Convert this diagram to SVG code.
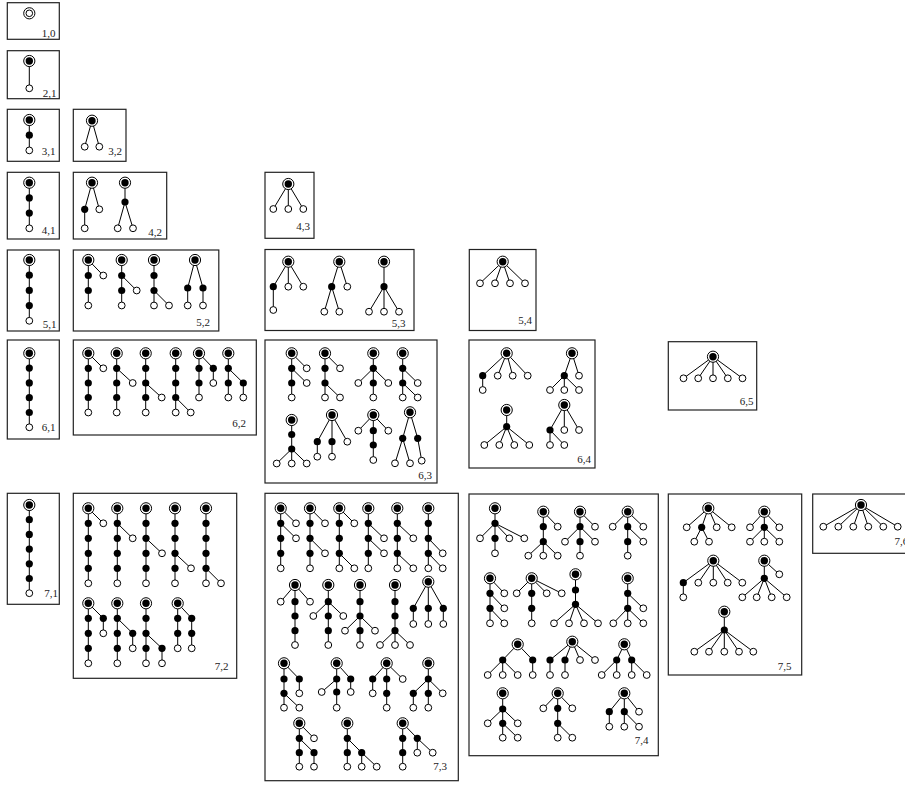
<svg xmlns="http://www.w3.org/2000/svg" xmlns:xlink="http://www.w3.org/1999/xlink" width="905" height="785" viewBox="0 0 905 785">
<style>
rect.box{fill:none;stroke:#222;stroke-width:1.2}
text{font-family:"Liberation Serif","Times New Roman",serif;font-size:11px;text-anchor:end;fill:#222}
#connectors path{stroke:#000;stroke-width:1;fill:none}
</style>
<defs>
<g id="R"><circle r="5.6" fill="#fff" stroke="#000" stroke-width="1"/><circle r="3.7" fill="#000"/></g>
<g id="R0"><circle r="5.6" fill="#fff" stroke="#000" stroke-width="1"/><circle r="3.3" fill="#fff" stroke="#000" stroke-width="1"/></g>
<circle id="L" r="3.4" fill="#fff" stroke="#000" stroke-width="1"/>
<circle id="B" r="3.6" fill="#000"/>
</defs>
<rect width="905" height="785" fill="#fff"/>
<g id="connectors">
<path d="M29.3 61V88.3M29.3 120V150.4M92 120.7L84.7 146.7M92 120.7L99.3 146.7"/>
<path d="M29.3 182.7V228.3M92 182.7L84.7 209.3V228.3M92 182.7L99.3 209.3M125 182.7V202L117.7 228.3M125 202L133 228.3M288.3 184L273.3 209M288.3 184V209M288.3 184L303.3 209"/>
<path d="M29.3 260V320.8M88.3 260V305.5M88.3 260L103.3 275.5M121.7 260V305.5M121.7 275.5L136.7 290.5M154 260V305.5M154 290.5L169 305.5M195 260L187.7 288V305.5M195 260L203 288V305.5"/>
<path d="M288.3 261.7L273.3 286.7V310M288.3 261.7V286.7M288.3 261.7L303.3 286.7M339.3 261.7L331.7 286.7L324.3 311.7M331.7 286.7L339.3 311.7M339.3 261.7L347.3 286.7M384 261.7V311.7M384 286.7L369 311.7M384 286.7L399 311.7"/>
<path d="M502.7 261.7L480 283.3M502.7 261.7L495 283.3M502.7 261.7L510 283.3M502.7 261.7L525 283.3"/>
<path d="M29.3 353.3V427.3M88.3 353.3V412.5M88.3 353.3L103.3 368.3M116.7 353.3V412.5M116.7 368.3L132.7 383M145.7 353.3V412.5M145.7 383L161.7 397.5M175.7 353.3V412.5M175.7 397.5L190.7 412.5M199 353.3V397.5M199 353.3L213.3 368.3V383M228.3 353.3V397.5M228.3 368.3L243.3 383V397.5"/>
<path d="M291.7 353.3V397.5M291.7 353.3L306.7 368.3M291.7 368.3L306.7 383M325 353.3V397.5M325 383L340 397.5M325 353.3L340 368.3M373.3 353.3V397.5M373.3 368.3L358.3 383M373.3 368.3L388.3 383M402.7 353.3V397.5M402.7 368.3L417.7 383M402.7 383L417.7 397.5M291.7 420V449L276.7 463.5M291.7 449V463.5M291.7 449L306.7 463.5M332 415L317.3 441.7V456.7M332 415V456.7M332 415L347.3 441.7M373.3 415V460M373.3 415L358.3 430.7M373.3 415L388.3 430.7M410 412.3L402.7 438.3L395 463.3M402.7 438.3L410 463.3M410 412.3L417.7 438.3L421.7 460.7"/>
<path d="M506.7 353.3L482.7 375.7V390M506.7 353.3L497.7 375.7M506.7 353.3L512.7 375.7M506.7 353.3L527.7 375.7M572 353.3L564.3 375.7L550 390M564.3 375.7V390M564.3 375.7L579 390M572 353.3L579 375.7M506.7 410V426.7L484.3 445M506.7 426.7L499.3 445M506.7 426.7L514.3 445M506.7 426.7L529.3 445M564.3 405L550 430V445M550 430L564.3 445M564.3 405V430M564.3 405L579 430"/>
<path d="M713 356.7L683.5 378.3M713 356.7L698.2 378.3M713 356.7V378.3M713 356.7L727.8 378.3M713 356.7L742.5 378.3"/>
<path d="M29.3 505V593.2M88.3 508.3V583.3M88.3 508.3L103.3 523.3M117.3 508.3V583.3M117.3 523.3L132.7 538.3M146 508.3V583.3M146 538.3L162 553.3M175 508.3V583.3M175 553.3L191 568.3M206 508.3V583.3M206 568.3L221 583.3M88.3 603.3V663.3M88.3 603.3L103.3 618.3V633.3M117.3 603.3V663.3M117.3 618.3L132.7 633.3V648.3M146 603.3V663.3M146 633.3L162 648.3V663.3M177.7 603.3V648.3M177.7 603.3L191.7 618.3V648.3"/>
<path d="M280.7 508.3V568.3M280.7 508.3L296 523.3M280.7 523.3L296 538.3M310 508.3V568.3M310 508.3L325 523.3M310 538.3L325 553.3M339.3 508.3V568.3M339.3 508.3L354.3 523.3M339.3 553.3L354.3 568.3M368.3 508.3V568.3M368.3 523.3L384 538.3M368.3 538.3L384 553.3M397.3 508.3V568.3M397.3 523.3L413.3 538.3M397.3 553.3L413.3 568.3M428.3 508.3V568.3M428.3 538.3L442.7 553.3M428.3 553.3L442.7 568.3"/>
<path d="M295 585V645M295 585L280.7 601.7M295 585L310 601.7M328.3 585V645M328.3 601.7L313.3 616M328.3 601.7L343.3 616M360 585V645M360 616L345 630.7M360 616L375 630.7M395 585V645M395 630.7L380 645M395 630.7L410 645M428.3 581.7L413.3 608.3V624M428.3 581.7V624M428.3 581.7L443.3 608.3V624"/>
<path d="M284 663.3V707.7M284 663.3L299.3 679V693.3M284 693.3L299.3 707.7M336.7 663.3V707.7M336.7 679L321.7 692M336.7 663.3L350.7 679V692M386.7 663.3V707.7M386.7 663.3L372.7 679V693.3M386.7 663.3L402.7 679M428.3 663.3V707.7M428.3 679L413.3 693.3V707.7M428.3 679L442.7 693.3"/>
<path d="M299.3 723.3V766.7M299.3 723.3L314 738.3M299.3 738.3L314 752.7V766.7M347.3 723.3V766.7M347.3 738.3L361.7 752.7V766.7M361.7 752.7L376.7 766.7M402.7 723.3V766.7M402.7 723.3L417.3 738.3V752.7M417.3 738.3L432.7 752.7"/>
<path d="M495 508.3V553.3M495 523.3L480 538.3M495 523.3L509.3 538.3M495 523.3L524.3 538.3M543.3 511.7V541.7L528.3 555.7M543.3 541.7V555.7M543.3 541.7L557.7 555.7M543.3 511.7L557.7 526.7M580 511.7V555.7M580 511.7L595 526.7M580 526.7L565 541.7M580 526.7L595 541.7M627.7 511.7V555.7M627.7 511.7L612.7 526.7M627.7 511.7L643.3 526.7M627.7 526.7L643.3 541.7"/>
<path d="M490 578.3V623.3M490 578.3L504.3 593.3M490 593.3L504.3 608.3M490 608.3L504.3 623.3M531.7 578.3V623.3M531.7 578.3L516.7 593.3M531.7 578.3L546.7 593.3M531.7 578.3L561.7 593.3M575.5 574.3V604.3L554 623.3M575.5 604.3L569 623.3M575.5 604.3L584 623.3M575.5 604.3L598 623.3M627.7 578.3V623.3M627.7 593.3L643.3 608.3M627.7 608.3L613.3 623.3M627.7 608.3L643.3 623.3"/>
<path d="M517.7 644.3L502.7 660L487.7 675M502.7 660V675M502.7 660L517.7 675M517.7 644.3L532.7 660V675M572.3 641.7L550 660V675M572.3 641.7L565 660V675M572.3 641.7L580 660M572.3 641.7L595 660M624.3 644.3L616.7 660L601.7 675M616.7 660V675M624.3 644.3L631.7 660V675M631.7 660L646.7 675"/>
<path d="M502.7 693.3V737.7M502.7 709L487.7 723.3M502.7 709L517.7 723.3M502.7 723.3L517.7 737.7M557.7 693.3V737.7M557.7 693.3L543.3 708.3M557.7 693.3L572.3 708.3M557.7 723.3L572.3 737.7M624.3 693.3L609.3 711.7V726.7M624.3 693.3V726.7M624.3 693.3L639 711.7M624.3 711.7L639 726.7"/>
<path d="M708.3 508.3L686.7 527.3M708.3 508.3L701.7 527.3L694.3 541.7M701.7 527.3L709 541.7M708.3 508.3L716.7 527.3M708.3 508.3L731.7 527.3M764.3 511.7V541.7M764.3 511.7L750 527.3M764.3 511.7L779.3 527.3M764.3 527.3L750 541.7M764.3 527.3L779.3 541.7"/>
<path d="M713.3 560.7L683.3 582.7V597.3M713.3 560.7L698.3 582.7M713.3 560.7V582.7M713.3 560.7L727.7 582.7M713.3 560.7L742.3 582.7M764.3 560.7V578.3L742.3 597.3M764.3 578.3L756.7 597.3M764.3 578.3L771.7 597.3M764.3 578.3L786.7 597.3M764.3 560.7L779.3 574.3M724.3 611.7V651.7M724.3 630L694.3 651.7M724.3 630L709 651.7M724.3 630L739 651.7M724.3 630L753.3 651.7"/>
<path d="M861 505L823.3 526.7M861 505L838.3 526.7M861 505L853.3 526.7M861 505L868.3 526.7M861 505L883.3 526.7M861 505L897.7 526.7"/>
</g>
<g id="box-1-0"><rect class="box" x="7.3" y="2.7" width="52" height="36.6"/><text x="55.5" y="36.5">1,0</text><use href="#R0" x="29.3" y="13.3"/></g>
<g id="box-2-1"><rect class="box" x="7.3" y="50.7" width="52" height="48"/><text x="56.5" y="96.5">2,1</text><use href="#R" x="29.3" y="61"/><use href="#L" x="29.3" y="88.3"/></g>
<g id="box-3-1"><rect class="box" x="7.3" y="109.3" width="52" height="52"/><text x="55.5" y="154.5">3,1</text><use href="#R" x="29.3" y="120"/><use href="#B" x="29.3" y="135.2"/><use href="#L" x="29.3" y="150.4"/></g>
<g id="box-3-2"><rect class="box" x="73.3" y="109.3" width="52.7" height="52"/><text x="122" y="154.5">3,2</text><use href="#R" x="92" y="120.7"/><use href="#L" x="84.7" y="146.7"/><use href="#L" x="99.3" y="146.7"/></g>
<g id="box-4-1"><rect class="box" x="7.3" y="172.3" width="52" height="66.7"/><text x="55.5" y="233.5">4,1</text><use href="#R" x="29.3" y="182.7"/><use href="#B" x="29.3" y="197.9"/><use href="#B" x="29.3" y="213.1"/><use href="#L" x="29.3" y="228.3"/></g>
<g id="box-4-2"><rect class="box" x="73.3" y="172.3" width="93.4" height="66.7"/><text x="162" y="236">4,2</text><use href="#R" x="92" y="182.7"/><use href="#B" x="84.7" y="209.3"/><use href="#L" x="84.7" y="228.3"/><use href="#L" x="99.3" y="209.3"/><use href="#R" x="125" y="182.7"/><use href="#B" x="125" y="202"/><use href="#L" x="117.7" y="228.3"/><use href="#L" x="133" y="228.3"/></g>
<g id="box-4-3"><rect class="box" x="265" y="172.3" width="49" height="66"/><text x="310" y="230">4,3</text><use href="#R" x="288.3" y="184"/><use href="#L" x="273.3" y="209"/><use href="#L" x="288.3" y="209"/><use href="#L" x="303.3" y="209"/></g>
<g id="box-5-1"><rect class="box" x="7.3" y="250" width="52" height="81"/><text x="56.5" y="327.5">5,1</text><use href="#R" x="29.3" y="260"/><use href="#B" x="29.3" y="275.2"/><use href="#B" x="29.3" y="290.4"/><use href="#B" x="29.3" y="305.6"/><use href="#L" x="29.3" y="320.8"/></g>
<g id="box-5-2"><rect class="box" x="73.3" y="250" width="145.5" height="81"/><text x="210" y="326">5,2</text>
<use href="#R" x="88.3" y="260"/><use href="#B" x="88.3" y="275.5"/><use href="#B" x="88.3" y="290.5"/><use href="#L" x="88.3" y="305.5"/><use href="#L" x="103.3" y="275.5"/>
<use href="#R" x="121.7" y="260"/><use href="#B" x="121.7" y="275.5"/><use href="#B" x="121.7" y="290.5"/><use href="#L" x="121.7" y="305.5"/><use href="#L" x="136.7" y="290.5"/>
<use href="#R" x="154" y="260"/><use href="#B" x="154" y="275.5"/><use href="#B" x="154" y="290.5"/><use href="#L" x="154" y="305.5"/><use href="#L" x="169" y="305.5"/>
<use href="#R" x="195" y="260"/><use href="#B" x="187.7" y="288"/><use href="#B" x="203" y="288"/><use href="#L" x="187.7" y="305.5"/><use href="#L" x="203" y="305.5"/></g>
<g id="box-5-3"><rect class="box" x="265" y="249.5" width="149" height="81"/><text x="405.5" y="326.5">5,3</text>
<use href="#R" x="288.3" y="261.7"/><use href="#B" x="273.3" y="286.7"/><use href="#L" x="288.3" y="286.7"/><use href="#L" x="303.3" y="286.7"/><use href="#L" x="273.3" y="310"/>
<use href="#R" x="339.3" y="261.7"/><use href="#B" x="331.7" y="286.7"/><use href="#L" x="347.3" y="286.7"/><use href="#L" x="324.3" y="311.7"/><use href="#L" x="339.3" y="311.7"/>
<use href="#R" x="384" y="261.7"/><use href="#B" x="384" y="286.7"/><use href="#L" x="369" y="311.7"/><use href="#L" x="384" y="311.7"/><use href="#L" x="399" y="311.7"/></g>
<g id="box-5-4"><rect class="box" x="469.3" y="249.5" width="66.7" height="81"/><text x="532" y="323.5">5,4</text><use href="#R" x="502.7" y="261.7"/><use href="#L" x="480" y="283.3"/><use href="#L" x="495" y="283.3"/><use href="#L" x="510" y="283.3"/><use href="#L" x="525" y="283.3"/></g>
<g id="box-6-1"><rect class="box" x="7.3" y="340" width="52" height="99"/><text x="55.5" y="431">6,1</text><use href="#R" x="29.3" y="353.3"/><use href="#B" x="29.3" y="368.1"/><use href="#B" x="29.3" y="382.9"/><use href="#B" x="29.3" y="397.7"/><use href="#B" x="29.3" y="412.5"/><use href="#L" x="29.3" y="427.3"/></g>
<g id="box-6-2"><rect class="box" x="73.3" y="340" width="183" height="95"/><text x="246" y="427">6,2</text>
<use href="#R" x="88.3" y="353.3"/><use href="#B" x="88.3" y="368.3"/><use href="#B" x="88.3" y="383"/><use href="#B" x="88.3" y="397.5"/><use href="#L" x="88.3" y="412.5"/><use href="#L" x="103.3" y="368.3"/>
<use href="#R" x="116.7" y="353.3"/><use href="#B" x="116.7" y="368.3"/><use href="#B" x="116.7" y="383"/><use href="#B" x="116.7" y="397.5"/><use href="#L" x="116.7" y="412.5"/><use href="#L" x="132.7" y="383"/>
<use href="#R" x="145.7" y="353.3"/><use href="#B" x="145.7" y="368.3"/><use href="#B" x="145.7" y="383"/><use href="#B" x="145.7" y="397.5"/><use href="#L" x="145.7" y="412.5"/><use href="#L" x="161.7" y="397.5"/>
<use href="#R" x="175.7" y="353.3"/><use href="#B" x="175.7" y="368.3"/><use href="#B" x="175.7" y="383"/><use href="#B" x="175.7" y="397.5"/><use href="#L" x="175.7" y="412.5"/><use href="#L" x="190.7" y="412.5"/>
<use href="#R" x="199" y="353.3"/><use href="#B" x="199" y="368.3"/><use href="#B" x="199" y="383"/><use href="#L" x="199" y="397.5"/><use href="#B" x="213.3" y="368.3"/><use href="#L" x="213.3" y="383"/>
<use href="#R" x="228.3" y="353.3"/><use href="#B" x="228.3" y="368.3"/><use href="#B" x="228.3" y="383"/><use href="#L" x="228.3" y="397.5"/><use href="#B" x="243.3" y="383"/><use href="#L" x="243.3" y="397.5"/></g>
<g id="box-6-3"><rect class="box" x="265" y="340" width="172" height="143"/><text x="432" y="478.5">6,3</text>
<use href="#R" x="291.7" y="353.3"/><use href="#B" x="291.7" y="368.3"/><use href="#B" x="291.7" y="383"/><use href="#L" x="291.7" y="397.5"/><use href="#L" x="306.7" y="368.3"/><use href="#L" x="306.7" y="383"/>
<use href="#R" x="325" y="353.3"/><use href="#B" x="325" y="368.3"/><use href="#B" x="325" y="383"/><use href="#L" x="325" y="397.5"/><use href="#L" x="340" y="397.5"/><use href="#L" x="340" y="368.3"/>
<use href="#R" x="373.3" y="353.3"/><use href="#B" x="373.3" y="368.3"/><use href="#L" x="358.3" y="383"/><use href="#B" x="373.3" y="383"/><use href="#L" x="388.3" y="383"/><use href="#L" x="373.3" y="397.5"/>
<use href="#R" x="402.7" y="353.3"/><use href="#B" x="402.7" y="368.3"/><use href="#B" x="402.7" y="383"/><use href="#L" x="402.7" y="397.5"/><use href="#L" x="417.7" y="383"/><use href="#L" x="417.7" y="397.5"/>
<use href="#R" x="291.7" y="420"/><use href="#B" x="291.7" y="434.5"/><use href="#B" x="291.7" y="449"/><use href="#L" x="276.7" y="463.5"/><use href="#L" x="291.7" y="463.5"/><use href="#L" x="306.7" y="463.5"/>
<use href="#R" x="332" y="415"/><use href="#B" x="317.3" y="441.7"/><use href="#B" x="332" y="441.7"/><use href="#L" x="347.3" y="441.7"/><use href="#L" x="317.3" y="456.7"/><use href="#L" x="332" y="456.7"/>
<use href="#R" x="373.3" y="415"/><use href="#L" x="358.3" y="430.7"/><use href="#B" x="373.3" y="430.7"/><use href="#L" x="388.3" y="430.7"/><use href="#B" x="373.3" y="445"/><use href="#L" x="373.3" y="460"/>
<use href="#R" x="410" y="412.3"/><use href="#B" x="402.7" y="438.3"/><use href="#B" x="417.7" y="438.3"/><use href="#L" x="395" y="463.3"/><use href="#L" x="410" y="463.3"/><use href="#L" x="421.7" y="460.7"/></g>
<g id="box-6-4"><rect class="box" x="469" y="340" width="126" height="128"/><text x="591" y="463">6,4</text>
<use href="#R" x="506.7" y="353.3"/><use href="#B" x="482.7" y="375.7"/><use href="#L" x="497.7" y="375.7"/><use href="#L" x="512.7" y="375.7"/><use href="#L" x="527.7" y="375.7"/><use href="#L" x="482.7" y="390"/>
<use href="#R" x="572" y="353.3"/><use href="#B" x="564.3" y="375.7"/><use href="#L" x="579" y="375.7"/><use href="#L" x="550" y="390"/><use href="#L" x="564.3" y="390"/><use href="#L" x="579" y="390"/>
<use href="#R" x="506.7" y="410"/><use href="#B" x="506.7" y="426.7"/><use href="#L" x="484.3" y="445"/><use href="#L" x="499.3" y="445"/><use href="#L" x="514.3" y="445"/><use href="#L" x="529.3" y="445"/>
<use href="#R" x="564.3" y="405"/><use href="#B" x="550" y="430"/><use href="#L" x="564.3" y="430"/><use href="#L" x="579" y="430"/><use href="#L" x="550" y="445"/><use href="#L" x="564.3" y="445"/></g>
<g id="box-6-5"><rect class="box" x="668.3" y="341.7" width="88.4" height="68.3"/><text x="753.5" y="405">6,5</text><use href="#R" x="713" y="356.7"/><use href="#L" x="683.5" y="378.3"/><use href="#L" x="698.2" y="378.3"/><use href="#L" x="713" y="378.3"/><use href="#L" x="727.8" y="378.3"/><use href="#L" x="742.5" y="378.3"/></g>
<g id="box-7-1"><rect class="box" x="7.3" y="493.3" width="52" height="111"/><text x="58" y="597">7,1</text><use href="#R" x="29.3" y="505"/><use href="#B" x="29.3" y="519.7"/><use href="#B" x="29.3" y="534.4"/><use href="#B" x="29.3" y="549.1"/><use href="#B" x="29.3" y="563.8"/><use href="#B" x="29.3" y="578.5"/><use href="#L" x="29.3" y="593.2"/></g>
<g id="box-7-2"><rect class="box" x="73.3" y="493.3" width="163.4" height="185"/><text x="228.5" y="670">7,2</text>
<use href="#R" x="88.3" y="508.3"/><use href="#B" x="88.3" y="523.3"/><use href="#B" x="88.3" y="538.3"/><use href="#B" x="88.3" y="553.3"/><use href="#B" x="88.3" y="568.3"/><use href="#L" x="88.3" y="583.3"/><use href="#L" x="103.3" y="523.3"/>
<use href="#R" x="117.3" y="508.3"/><use href="#B" x="117.3" y="523.3"/><use href="#B" x="117.3" y="538.3"/><use href="#B" x="117.3" y="553.3"/><use href="#B" x="117.3" y="568.3"/><use href="#L" x="117.3" y="583.3"/><use href="#L" x="132.7" y="538.3"/>
<use href="#R" x="146" y="508.3"/><use href="#B" x="146" y="523.3"/><use href="#B" x="146" y="538.3"/><use href="#B" x="146" y="553.3"/><use href="#B" x="146" y="568.3"/><use href="#L" x="146" y="583.3"/><use href="#L" x="162" y="553.3"/>
<use href="#R" x="175" y="508.3"/><use href="#B" x="175" y="523.3"/><use href="#B" x="175" y="538.3"/><use href="#B" x="175" y="553.3"/><use href="#B" x="175" y="568.3"/><use href="#L" x="175" y="583.3"/><use href="#L" x="191" y="568.3"/>
<use href="#R" x="206" y="508.3"/><use href="#B" x="206" y="523.3"/><use href="#B" x="206" y="538.3"/><use href="#B" x="206" y="553.3"/><use href="#B" x="206" y="568.3"/><use href="#L" x="206" y="583.3"/><use href="#L" x="221" y="583.3"/>
<use href="#R" x="88.3" y="603.3"/><use href="#B" x="88.3" y="618.3"/><use href="#B" x="88.3" y="633.3"/><use href="#B" x="88.3" y="648.3"/><use href="#L" x="88.3" y="663.3"/><use href="#B" x="103.3" y="618.3"/><use href="#L" x="103.3" y="633.3"/>
<use href="#R" x="117.3" y="603.3"/><use href="#B" x="117.3" y="618.3"/><use href="#B" x="117.3" y="633.3"/><use href="#B" x="117.3" y="648.3"/><use href="#L" x="117.3" y="663.3"/><use href="#B" x="132.7" y="633.3"/><use href="#L" x="132.7" y="648.3"/>
<use href="#R" x="146" y="603.3"/><use href="#B" x="146" y="618.3"/><use href="#B" x="146" y="633.3"/><use href="#B" x="146" y="648.3"/><use href="#L" x="146" y="663.3"/><use href="#B" x="162" y="648.3"/><use href="#L" x="162" y="663.3"/>
<use href="#R" x="177.7" y="603.3"/><use href="#B" x="177.7" y="618.3"/><use href="#B" x="177.7" y="633.3"/><use href="#L" x="177.7" y="648.3"/><use href="#B" x="191.7" y="618.3"/><use href="#B" x="191.7" y="633.3"/><use href="#L" x="191.7" y="648.3"/></g>
<g id="box-7-3"><rect class="box" x="265" y="493.3" width="193.3" height="287.4"/><text x="447" y="770">7,3</text>
<use href="#R" x="280.7" y="508.3"/><use href="#B" x="280.7" y="523.3"/><use href="#B" x="280.7" y="538.3"/><use href="#B" x="280.7" y="553.3"/><use href="#L" x="280.7" y="568.3"/><use href="#L" x="296" y="523.3"/><use href="#L" x="296" y="538.3"/>
<use href="#R" x="310" y="508.3"/><use href="#B" x="310" y="523.3"/><use href="#B" x="310" y="538.3"/><use href="#B" x="310" y="553.3"/><use href="#L" x="310" y="568.3"/><use href="#L" x="325" y="523.3"/><use href="#L" x="325" y="553.3"/>
<use href="#R" x="339.3" y="508.3"/><use href="#B" x="339.3" y="523.3"/><use href="#B" x="339.3" y="538.3"/><use href="#B" x="339.3" y="553.3"/><use href="#L" x="339.3" y="568.3"/><use href="#L" x="354.3" y="523.3"/><use href="#L" x="354.3" y="568.3"/>
<use href="#R" x="368.3" y="508.3"/><use href="#B" x="368.3" y="523.3"/><use href="#B" x="368.3" y="538.3"/><use href="#B" x="368.3" y="553.3"/><use href="#L" x="368.3" y="568.3"/><use href="#L" x="384" y="538.3"/><use href="#L" x="384" y="553.3"/>
<use href="#R" x="397.3" y="508.3"/><use href="#B" x="397.3" y="523.3"/><use href="#B" x="397.3" y="538.3"/><use href="#B" x="397.3" y="553.3"/><use href="#L" x="397.3" y="568.3"/><use href="#L" x="413.3" y="538.3"/><use href="#L" x="413.3" y="568.3"/>
<use href="#R" x="428.3" y="508.3"/><use href="#B" x="428.3" y="523.3"/><use href="#B" x="428.3" y="538.3"/><use href="#B" x="428.3" y="553.3"/><use href="#L" x="428.3" y="568.3"/><use href="#L" x="442.7" y="553.3"/><use href="#L" x="442.7" y="568.3"/>
<use href="#R" x="295" y="585"/><use href="#L" x="280.7" y="601.7"/><use href="#B" x="295" y="601.7"/><use href="#L" x="310" y="601.7"/><use href="#B" x="295" y="616"/><use href="#B" x="295" y="630.7"/><use href="#L" x="295" y="645"/>
<use href="#R" x="328.3" y="585"/><use href="#B" x="328.3" y="601.7"/><use href="#L" x="313.3" y="616"/><use href="#B" x="328.3" y="616"/><use href="#L" x="343.3" y="616"/><use href="#B" x="328.3" y="630.7"/><use href="#L" x="328.3" y="645"/>
<use href="#R" x="360" y="585"/><use href="#B" x="360" y="601.7"/><use href="#B" x="360" y="616"/><use href="#L" x="345" y="630.7"/><use href="#B" x="360" y="630.7"/><use href="#L" x="375" y="630.7"/><use href="#L" x="360" y="645"/>
<use href="#R" x="395" y="585"/><use href="#B" x="395" y="601.7"/><use href="#B" x="395" y="616"/><use href="#B" x="395" y="630.7"/><use href="#L" x="380" y="645"/><use href="#L" x="395" y="645"/><use href="#L" x="410" y="645"/>
<use href="#R" x="428.3" y="581.7"/><use href="#B" x="413.3" y="608.3"/><use href="#B" x="428.3" y="608.3"/><use href="#B" x="443.3" y="608.3"/><use href="#L" x="413.3" y="624"/><use href="#L" x="428.3" y="624"/><use href="#L" x="443.3" y="624"/>
<use href="#R" x="284" y="663.3"/><use href="#B" x="284" y="679"/><use href="#B" x="284" y="693.3"/><use href="#B" x="299.3" y="679"/><use href="#L" x="299.3" y="693.3"/><use href="#L" x="284" y="707.7"/><use href="#L" x="299.3" y="707.7"/>
<use href="#R" x="336.7" y="663.3"/><use href="#B" x="336.7" y="679"/><use href="#B" x="350.7" y="679"/><use href="#L" x="321.7" y="692"/><use href="#B" x="336.7" y="692"/><use href="#L" x="350.7" y="692"/><use href="#L" x="336.7" y="707.7"/>
<use href="#R" x="386.7" y="663.3"/><use href="#B" x="372.7" y="679"/><use href="#B" x="386.7" y="679"/><use href="#L" x="402.7" y="679"/><use href="#L" x="372.7" y="693.3"/><use href="#B" x="386.7" y="693.3"/><use href="#L" x="386.7" y="707.7"/>
<use href="#R" x="428.3" y="663.3"/><use href="#B" x="428.3" y="679"/><use href="#B" x="413.3" y="693.3"/><use href="#B" x="428.3" y="693.3"/><use href="#L" x="442.7" y="693.3"/><use href="#L" x="413.3" y="707.7"/><use href="#L" x="428.3" y="707.7"/>
<use href="#R" x="299.3" y="723.3"/><use href="#B" x="299.3" y="738.3"/><use href="#L" x="314" y="738.3"/><use href="#B" x="299.3" y="752.7"/><use href="#B" x="314" y="752.7"/><use href="#L" x="299.3" y="766.7"/><use href="#L" x="314" y="766.7"/>
<use href="#R" x="347.3" y="723.3"/><use href="#B" x="347.3" y="738.3"/><use href="#B" x="347.3" y="752.7"/><use href="#B" x="361.7" y="752.7"/><use href="#L" x="347.3" y="766.7"/><use href="#L" x="361.7" y="766.7"/><use href="#L" x="376.7" y="766.7"/>
<use href="#R" x="402.7" y="723.3"/><use href="#B" x="402.7" y="738.3"/><use href="#B" x="402.7" y="752.7"/><use href="#L" x="402.7" y="766.7"/><use href="#B" x="417.3" y="738.3"/><use href="#L" x="417.3" y="752.7"/><use href="#L" x="432.7" y="752.7"/></g>
<g id="box-7-4"><rect class="box" x="469" y="494" width="189.3" height="261.7"/><text x="648.5" y="743.5">7,4</text>
<use href="#R" x="495" y="508.3"/><use href="#B" x="495" y="523.3"/><use href="#L" x="480" y="538.3"/><use href="#B" x="495" y="538.3"/><use href="#L" x="509.3" y="538.3"/><use href="#L" x="524.3" y="538.3"/><use href="#L" x="495" y="553.3"/>
<use href="#R" x="543.3" y="511.7"/><use href="#B" x="543.3" y="526.7"/><use href="#L" x="557.7" y="526.7"/><use href="#B" x="543.3" y="541.7"/><use href="#L" x="528.3" y="555.7"/><use href="#L" x="543.3" y="555.7"/><use href="#L" x="557.7" y="555.7"/>
<use href="#R" x="580" y="511.7"/><use href="#B" x="580" y="526.7"/><use href="#L" x="595" y="526.7"/><use href="#L" x="565" y="541.7"/><use href="#B" x="580" y="541.7"/><use href="#L" x="595" y="541.7"/><use href="#L" x="580" y="555.7"/>
<use href="#R" x="627.7" y="511.7"/><use href="#L" x="612.7" y="526.7"/><use href="#B" x="627.7" y="526.7"/><use href="#L" x="643.3" y="526.7"/><use href="#B" x="627.7" y="541.7"/><use href="#L" x="643.3" y="541.7"/><use href="#L" x="627.7" y="555.7"/>
<use href="#R" x="490" y="578.3"/><use href="#B" x="490" y="593.3"/><use href="#L" x="504.3" y="593.3"/><use href="#B" x="490" y="608.3"/><use href="#L" x="504.3" y="608.3"/><use href="#L" x="490" y="623.3"/><use href="#L" x="504.3" y="623.3"/>
<use href="#R" x="531.7" y="578.3"/><use href="#L" x="516.7" y="593.3"/><use href="#B" x="531.7" y="593.3"/><use href="#L" x="546.7" y="593.3"/><use href="#L" x="561.7" y="593.3"/><use href="#B" x="531.7" y="608.3"/><use href="#L" x="531.7" y="623.3"/>
<use href="#R" x="575.5" y="574.3"/><use href="#B" x="575.5" y="590"/><use href="#B" x="575.5" y="604.3"/><use href="#L" x="554" y="623.3"/><use href="#L" x="569" y="623.3"/><use href="#L" x="584" y="623.3"/><use href="#L" x="598" y="623.3"/>
<use href="#R" x="627.7" y="578.3"/><use href="#B" x="627.7" y="593.3"/><use href="#B" x="627.7" y="608.3"/><use href="#L" x="643.3" y="608.3"/><use href="#L" x="613.3" y="623.3"/><use href="#L" x="627.7" y="623.3"/><use href="#L" x="643.3" y="623.3"/>
<use href="#R" x="517.7" y="644.3"/><use href="#B" x="502.7" y="660"/><use href="#B" x="532.7" y="660"/><use href="#L" x="487.7" y="675"/><use href="#L" x="502.7" y="675"/><use href="#L" x="517.7" y="675"/><use href="#L" x="532.7" y="675"/>
<use href="#R" x="572.3" y="641.7"/><use href="#B" x="550" y="660"/><use href="#B" x="565" y="660"/><use href="#L" x="580" y="660"/><use href="#L" x="595" y="660"/><use href="#L" x="550" y="675"/><use href="#L" x="565" y="675"/>
<use href="#R" x="624.3" y="644.3"/><use href="#B" x="616.7" y="660"/><use href="#B" x="631.7" y="660"/><use href="#L" x="601.7" y="675"/><use href="#L" x="616.7" y="675"/><use href="#L" x="631.7" y="675"/><use href="#L" x="646.7" y="675"/>
<use href="#R" x="502.7" y="693.3"/><use href="#B" x="502.7" y="709"/><use href="#L" x="487.7" y="723.3"/><use href="#B" x="502.7" y="723.3"/><use href="#L" x="517.7" y="723.3"/><use href="#L" x="502.7" y="737.7"/><use href="#L" x="517.7" y="737.7"/>
<use href="#R" x="557.7" y="693.3"/><use href="#L" x="543.3" y="708.3"/><use href="#B" x="557.7" y="708.3"/><use href="#L" x="572.3" y="708.3"/><use href="#B" x="557.7" y="723.3"/><use href="#L" x="557.7" y="737.7"/><use href="#L" x="572.3" y="737.7"/>
<use href="#R" x="624.3" y="693.3"/><use href="#B" x="609.3" y="711.7"/><use href="#B" x="624.3" y="711.7"/><use href="#L" x="639" y="711.7"/><use href="#L" x="609.3" y="726.7"/><use href="#L" x="624.3" y="726.7"/><use href="#L" x="639" y="726.7"/></g>
<g id="box-7-5"><rect class="box" x="668.3" y="494" width="133.4" height="181"/><text x="791.5" y="670">7,5</text>
<use href="#R" x="708.3" y="508.3"/><use href="#L" x="686.7" y="527.3"/><use href="#B" x="701.7" y="527.3"/><use href="#L" x="716.7" y="527.3"/><use href="#L" x="731.7" y="527.3"/><use href="#L" x="694.3" y="541.7"/><use href="#L" x="709" y="541.7"/>
<use href="#R" x="764.3" y="511.7"/><use href="#L" x="750" y="527.3"/><use href="#B" x="764.3" y="527.3"/><use href="#L" x="779.3" y="527.3"/><use href="#L" x="750" y="541.7"/><use href="#L" x="764.3" y="541.7"/><use href="#L" x="779.3" y="541.7"/>
<use href="#R" x="713.3" y="560.7"/><use href="#B" x="683.3" y="582.7"/><use href="#L" x="698.3" y="582.7"/><use href="#L" x="713.3" y="582.7"/><use href="#L" x="727.7" y="582.7"/><use href="#L" x="742.3" y="582.7"/><use href="#L" x="683.3" y="597.3"/>
<use href="#R" x="764.3" y="560.7"/><use href="#L" x="779.3" y="574.3"/><use href="#B" x="764.3" y="578.3"/><use href="#L" x="742.3" y="597.3"/><use href="#L" x="756.7" y="597.3"/><use href="#L" x="771.7" y="597.3"/><use href="#L" x="786.7" y="597.3"/>
<use href="#R" x="724.3" y="611.7"/><use href="#B" x="724.3" y="630"/><use href="#L" x="694.3" y="651.7"/><use href="#L" x="709" y="651.7"/><use href="#L" x="724.3" y="651.7"/><use href="#L" x="739" y="651.7"/><use href="#L" x="753.3" y="651.7"/></g>
<g id="box-7-6"><rect class="box" x="812.7" y="494" width="110" height="59.3"/><text x="894.5" y="545" style="text-anchor:start">7,6</text><use href="#R" x="861" y="505"/><use href="#L" x="823.3" y="526.7"/><use href="#L" x="838.3" y="526.7"/><use href="#L" x="853.3" y="526.7"/><use href="#L" x="868.3" y="526.7"/><use href="#L" x="883.3" y="526.7"/><use href="#L" x="897.7" y="526.7"/></g>
</svg>
